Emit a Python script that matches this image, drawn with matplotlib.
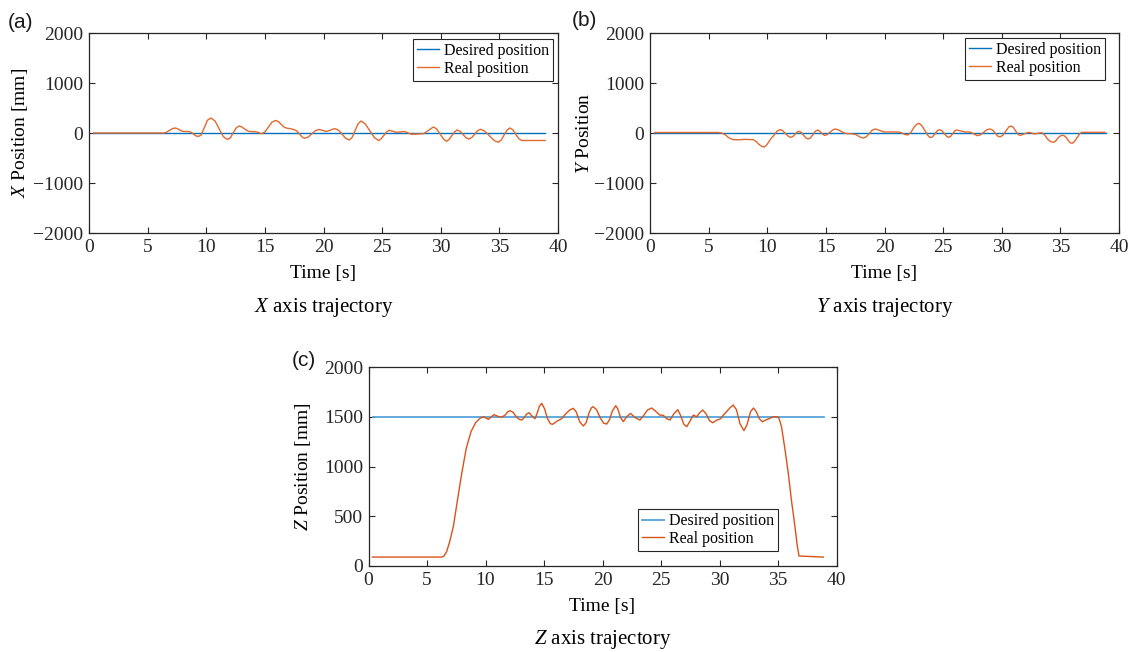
import matplotlib
matplotlib.use("Agg")
import matplotlib.pyplot as plt

plt.rcParams["font.family"] = "Liberation Serif"
plt.rcParams["mathtext.fontset"] = "custom"
plt.rcParams["mathtext.rm"] = "Liberation Serif"
plt.rcParams["mathtext.it"] = "Liberation Serif:italic"

# trajectoire X
t_x = [0.4, 6.4, 6.6, 6.85, 7.1, 7.3, 7.5, 7.7, 7.9, 8.1, 8.5, 8.7, 8.9, 9.1,
       9.3, 9.55, 9.85, 10.1, 10.4, 10.75, 11.1, 11.45, 11.8, 12.05, 12.3,
       12.55, 12.8, 13.0, 13.25, 13.5, 13.7, 14.2, 14.45, 14.7, 15.0, 15.3,
       15.6, 15.9, 16.15, 16.4, 16.65, 16.9, 17.2, 17.5, 17.7, 17.95, 18.2,
       18.4, 18.7, 19.0, 19.3, 19.6, 19.9, 20.2, 20.4, 20.6, 20.8, 21.0, 21.3,
       21.6, 21.9, 22.2, 22.45, 22.7, 22.95, 23.2, 23.55, 23.95, 24.35, 24.7,
       24.9, 25.15, 25.4, 25.6, 25.9, 26.2, 26.55, 26.9, 27.2, 27.5, 28.0,
       28.5, 28.7, 28.95, 29.2, 29.4, 29.65, 29.95, 30.25, 30.5, 30.7, 30.95,
       31.2, 31.4, 31.65, 31.9, 32.15, 32.4, 32.65, 32.9, 33.15, 33.4, 33.75,
       34.15, 34.55, 34.9, 35.15, 35.4, 35.65, 35.9, 36.15, 36.4, 36.65,
       36.9, 38.9]
x_real = [0, 0, 15, 50, 85, 100, 90, 65, 40, 30, 30, 15, -20, -55,
          -70, -45, 115, 255, 300, 240, 85, -70, -130, -100, 5,
          100, 140, 125, 85, 45, 30, 25, 10, -15, 20, 118,
          215, 250, 230, 170, 115, 95, 85, 65, 45, -20, -85,
          -105, -80, -18, 45, 70, 55, 30, 40, 58, 78, 85, 52,
          -28, -108, -140, -85, 50, 185, 240, 185, 45, -95, -150,
          -120, -48, 25, 55, 35, 15, 22, 30, 3, -25, -20,
          -15, 10, 52, 95, 120, 80, -22, -125, -165, -132, -52,
          27, 60, 35, -30, -95, -120, -90, -22, 47, 75, 37,
          -55, -148, -185, -143, -42, 58, 100, 65, -25, -113,
          -150, -150]

# trajectoire Y
t_y = [0.4, 5.8, 6.1, 6.4, 6.75, 7.1, 7.6, 8.1, 8.8, 9.05, 9.3, 9.55, 9.75,
       9.95, 10.15, 10.35, 10.5, 10.65, 10.85, 11.1, 11.3, 11.55, 11.8, 12.0,
       12.2, 12.35, 12.55, 12.7, 12.9, 13.1, 13.3, 13.5, 13.7, 13.9, 14.1,
       14.3, 14.45, 14.6, 14.75, 14.9, 15.1, 15.35, 15.6, 15.8, 16.05, 16.3,
       16.55, 16.8, 17.15, 17.5, 17.7, 17.95, 18.2, 18.45, 18.7, 18.95, 19.2,
       19.4, 19.65, 19.85, 20.05, 20.6, 21.2, 21.45, 21.75, 22.0, 22.25, 22.5,
       22.75, 22.97, 23.2, 23.45, 23.7, 23.9, 24.1, 24.3, 24.5, 24.7, 24.9,
       25.1, 25.3, 25.45, 25.65, 25.85, 26.0, 26.15, 26.5, 26.9, 27.3, 27.55,
       27.9, 28.2, 28.5, 28.75, 29.0, 29.25, 29.45, 29.65, 29.85, 30.1, 30.35,
       30.6, 30.8, 31.0, 31.2, 31.4, 31.6, 31.95, 32.3, 32.55, 32.8, 33.1,
       33.4, 33.65, 33.9, 34.15, 34.4, 34.6, 34.85, 35.05, 35.25, 35.45, 35.7,
       35.85, 36.0, 36.2, 36.45, 36.65, 36.8, 38.8]
y_real = [10, 10, 0, -33, -100, -133, -135, -127, -133, -170, -230, -270, -280,
          -240, -170, -100, -67, -20, 40, 67, 50, -10, -65, -87,
          -70, -25, 20, 33, 15, -45, -100, -120, -95, -30, 35,
          60, 42, 5, -30, -47, -30, 15, 62, 80, 65, 33,
          0, -13, -15, -27, -50, -85, -100, -75, -10, 55, 80,
          68, 45, 28, 20, 22, 20, 5, -30, -40, 10, 110,
          175, 193, 140, 45, -50, -93, -75, -15, 45, 67, 45,
          -10, -65, -87, -65, -5, 45, 60, 40, 20, 20, -10,
          -53, -35, 20, 68, 80, 55, -5, -60, -80, -45, 40,
          120, 140, 110, 35, -30, -47, -15, 13, 0, -20, -5,
          7, -35, -120, -170, -187, -160, -85, -52, -47, -75, -160,
          -195, -207, -170, -85, -15, 13, 13]

# trajectoire Z
t_z = [0.33, 6.25, 6.45, 6.68, 6.95, 7.25, 7.6, 7.97, 8.35, 8.76, 9.15, 9.53,
       9.8, 10.0, 10.24, 10.5, 10.73, 11.05, 11.38, 11.7, 11.9, 12.1, 12.35,
       12.6, 12.85, 13.1, 13.3, 13.5, 13.72, 13.95, 14.23, 14.4, 14.6, 14.8,
       15.05, 15.3, 15.55, 15.74, 16.1, 16.5, 16.9, 17.2, 17.5, 17.75, 18.05,
       18.36, 18.6, 18.85, 19.05, 19.2, 19.5, 19.8, 20.1, 20.36, 20.6, 20.85,
       21.13, 21.3, 21.55, 21.78, 22.1, 22.4, 22.8, 23.2, 23.5, 23.85, 24.2,
       24.5, 24.9, 25.2, 25.5, 25.77, 26.1, 26.43, 26.65, 26.95, 27.2, 27.45,
       27.76, 28.05, 28.3, 28.56, 28.85, 29.15, 29.42, 29.75, 30.1, 30.35,
       30.6, 30.9, 31.18, 31.45, 31.75, 32.09, 32.35, 32.65, 32.9, 33.15,
       33.4, 33.66, 34.0, 34.3, 34.6, 34.94, 35.1, 35.3, 35.6, 35.88, 36.15,
       36.45, 36.65, 36.8, 38.87]
z_real = [90, 90, 100, 144, 250, 395, 660, 931, 1180, 1350, 1440, 1484,
          1500, 1490, 1474, 1500, 1521, 1505, 1494, 1520, 1550, 1561, 1545,
          1505, 1475, 1467, 1490, 1525, 1541, 1510, 1480, 1530, 1605, 1635,
          1580, 1480, 1430, 1424, 1455, 1480, 1534, 1568, 1585, 1550, 1450,
          1407, 1440, 1540, 1590, 1601, 1570, 1490, 1435, 1427, 1470, 1560,
          1611, 1580, 1490, 1450, 1505, 1534, 1490, 1467, 1510, 1568, 1588,
          1560, 1517, 1514, 1480, 1467, 1530, 1571, 1520, 1425, 1400, 1450,
          1517, 1500, 1540, 1568, 1530, 1460, 1440, 1465, 1480, 1520,
          1551, 1590, 1618, 1570, 1430, 1360, 1420, 1550, 1588, 1550,
          1480, 1450, 1470, 1484, 1500, 1500, 1480, 1400, 1170, 931, 660,
          395, 200, 100, 90]

t_span = [0.35, 38.9]
x_des = [0, 0]
y_des = [0, 0]
z_des = [1500, 1500]

BLUE = "#0072BD"
BLUE_LT = "#56A2D8"
ORANGE = "#E2692F"
RED = "#D95319"
SPINE = "#262626"

W, H = 1135, 652
fig = plt.figure(figsize=(W / 100, H / 100), dpi=100, facecolor="white")


def _ax(left, top, width, height):
    return fig.add_axes([left / W, 1 - (top + height) / H, width / W, height / H])


def _style(ax, ylim, yticks):
    ax.set_xlim(0, 40)
    ax.set_ylim(*ylim)
    ax.set_xticks(range(0, 41, 5))
    ax.set_yticks(yticks)
    ax.tick_params(direction="in", top=True, right=True, length=4,
                   width=0.8, labelsize=14, colors=SPINE, pad=4)
    for s in ax.spines.values():
        s.set_linewidth(0.9)
        s.set_color(SPINE)


def _legend(ax, loc, anchor):
    leg = ax.legend(loc=loc, bbox_to_anchor=anchor, borderaxespad=0,
                    fontsize=11.5, handlelength=1.4, handletextpad=0.3,
                    borderpad=0.25, labelspacing=0.1, fancybox=False,
                    framealpha=1, edgecolor=SPINE)
    leg.get_frame().set_linewidth(0.8)


def _labels(ax, ylab, title, yl_x):
    ax.set_xlabel("Time [s]", fontsize=14, labelpad=7)
    ax.set_ylabel(ylab, fontsize=14)
    ax.yaxis.set_label_coords(yl_x, 0.5)
    ax.text(0.5, -0.37, title, transform=ax.transAxes, ha="center",
            va="center", fontsize=15)


# (a)
ax_a = _ax(89, 33, 469, 200)
ax_a.plot(t_span, x_des, color=BLUE, lw=1.0, label="Desired position")
ax_a.plot(t_x, x_real, color=ORANGE, lw=1.0, label="Real position")
_style(ax_a, (-2000, 2000), [-2000, -1000, 0, 1000, 2000])
_legend(ax_a, "upper right", (0.989, 0.97))
_labels(ax_a, r"$X$ Position [mm]", r"$X$ axis trajectory", -0.126)

# (b)
ax_b = _ax(650, 33, 469, 200)
ax_b.plot(t_span, y_des, color=BLUE, lw=1.0, label="Desired position")
ax_b.plot(t_y, y_real, color=ORANGE, lw=1.0, label="Real position")
_style(ax_b, (-2000, 2000), [-2000, -1000, 0, 1000, 2000])
_legend(ax_b, "upper right", (0.970, 0.975))
_labels(ax_b, r"$Y$ Position", r"$Y$ axis trajectory", -0.1215)

# (c)
ax_c = _ax(368.5, 367, 468, 199)
ax_c.plot(t_span, z_des, color=BLUE_LT, lw=1.3, label="Desired position")
ax_c.plot(t_z, z_real, color=RED, lw=1.0, label="Real position")
_style(ax_c, (0, 2000), [0, 500, 1000, 1500, 2000])
_legend(ax_c, "lower right", (0.875, 0.075))
_labels(ax_c, r"$Z$ Position [mm]", r"$Z$ axis trajectory", -0.1186)

# repères des sous-figures
for x, y, s in [(8, 22, "(a)"), (572, 21, "(b)"), (292, 361, "(c)")]:
    fig.text(x / W, 1 - y / H, s, ha="left", va="center", fontsize=15,
             family="Liberation Sans", color="#1a1a1a")

fig.savefig("out.png", dpi=100, facecolor="white")
